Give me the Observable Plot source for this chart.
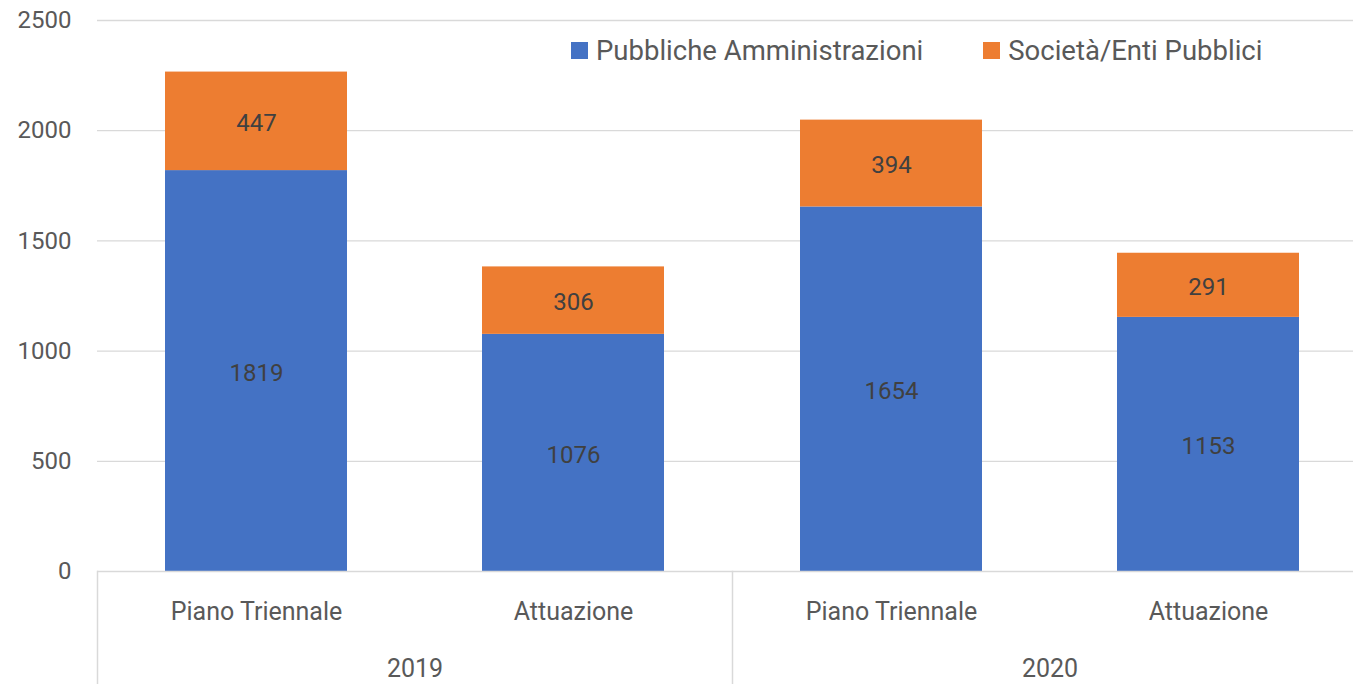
<!DOCTYPE html>
<html><head><meta charset="utf-8">
<script src="https://cdn.jsdelivr.net/npm/d3@7"></script>
<script src="https://cdn.jsdelivr.net/npm/@observablehq/plot@0.6"></script>
<style>
body{margin:0;background:#fff;overflow:hidden;}
#wrap{position:relative;width:1353px;height:684px;font-family:Roboto,sans-serif;}
#legend{position:absolute;left:571px;top:34px;}
#legend .lg-swatches{font-family:Roboto,sans-serif !important;font-size:27.5px !important;color:#595959;margin:0 !important;}
#legend .lg-swatch{margin-right:60px !important;}
#legend .lg-swatch > svg{margin-right:8px !important;}
</style></head><body><div id="wrap"><div id="legend"></div></div>
<script>
const years = ["2019", "2020"];
const categories = ["Piano Triennale", "Attuazione"];
const series = ["Pubbliche Amministrazioni", "Società/Enti Pubblici"];
const pubblicheAmministrazioni = [1819, 1076, 1654, 1153];
const societaEntiPubblici = [447, 306, 394, 291];
const yTicks = [0, 500, 1000, 1500, 2000, 2500];
const colors = ["#4472C4", "#ED7D31"];

const rows = [];
const catRows = [];
years.forEach((yr, i) => categories.forEach((c, j) => {
  const k = i * categories.length + j;
  catRows.push({year: yr, cat: c});
  rows.push({year: yr, cat: c, series: series[0], value: pubblicheAmministrazioni[k]});
  rows.push({year: yr, cat: c, series: series[1], value: societaEntiPubblici[k]});
}));

const chart = Plot.plot({
  width: 1353, height: 684,
  marginLeft: 96, marginRight: -14, marginTop: 20, marginBottom: 113,
  style: {fontFamily: "Roboto, sans-serif", fontSize: "24px", color: "#595959", background: "#fff", overflow: "visible"},
  fx: {domain: years, padding: 0, axis: null, label: null},
  x: {domain: categories, paddingInner: 0.427, paddingOuter: 0.2135, axis: null, label: null},
  y: {domain: [0, 2500], axis: null, label: null},
  color: {domain: series, range: colors},
  marks: [
    Plot.ruleY(yTicks.slice(1), {stroke: "#d9d9d9", strokeWidth: 1.3}),
    Plot.barY(rows, Plot.stackY({fx: "year", x: "cat", y: "value", fill: "series"})),
    Plot.ruleY([0], {stroke: "#d9d9d9", strokeWidth: 1.5}),
    Plot.frame({anchor: "left", stroke: "#d9d9d9", strokeWidth: 1.5, insetTop: 551, insetBottom: -113}),
    Plot.axisY(yTicks, {tickSize: 0, tickPadding: 26, fontSize: 24, fill: "#595959", label: null, tickFormat: d => String(d)}),
    Plot.text(rows, Plot.stackY({fx: "year", x: "cat", y: "value", z: "series", text: d => String(d.value), fill: "#404040", fontSize: 24, dy: 2})),
    Plot.text(catRows, {fx: "year", x: "cat", text: "cat", frameAnchor: "bottom", dy: 48, fontSize: 25, fill: "#595959"}),
    Plot.text(years, {fx: d => d, text: d => d, frameAnchor: "bottom", dy: 105, fontSize: 25, fill: "#595959"})
  ]
});
document.getElementById("wrap").appendChild(chart);

const legend = Plot.legend({color: {domain: series, range: colors}, swatchSize: 17, className: "lg"});
document.getElementById("legend").appendChild(legend);
</script>
</body></html>
